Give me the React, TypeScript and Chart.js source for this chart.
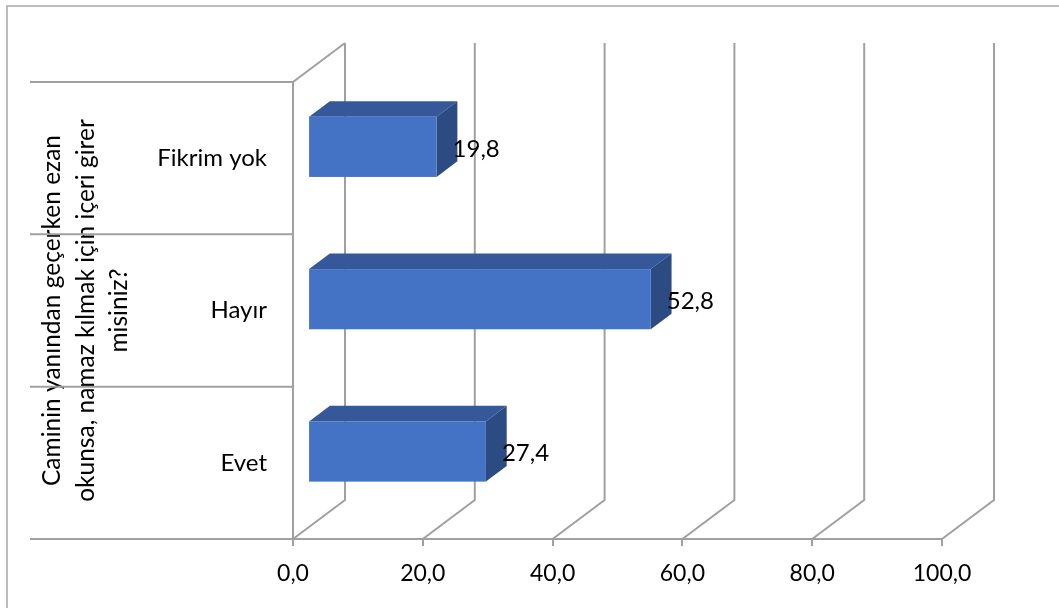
import React, { useEffect, useRef } from 'react';
import { Chart, registerables } from 'chart.js';

Chart.register(...registerables);

const categories = ['Fikrim yok', 'Hayır', 'Evet'];
const values = [19.8, 52.8, 27.4];
const xTicks = [0, 20, 40, 60, 80, 100];
const axisTitle = ['Caminin yanından geçerken ezan', 'okunsa, namaz kılmak için içeri girer', 'misiniz?'];

const FONT = 'Lato, "Open Sans", sans-serif';
const GRID = '#a0a0a0';
const DX = 52;
const DY = -39;
const BAR_NEAR = 0.29;
const BAR_FAR = 0.69;
const FRONT = '#4472C4';
const TOPC = '#34589A';
const SIDE = '#2B4B82';

const fmt = (v: number) => v.toFixed(1).replace('.', ',');

const box3d = {
  id: 'box3d',
  beforeDatasetsDraw(chart: any) {
    const { ctx, chartArea: a, scales } = chart;
    const x = scales.x;
    const y = scales.y;
    ctx.save();
    // outer frame
    ctx.strokeStyle = '#a6a6a6';
    ctx.lineWidth = 1.5;
    ctx.beginPath();
    ctx.moveTo(7, chart.height + 5);
    ctx.lineTo(7, 6);
    ctx.lineTo(chart.width + 5, 6);
    ctx.stroke();

    ctx.strokeStyle = GRID;
    ctx.lineWidth = 2;
    // back wall + floor lines
    xTicks.forEach((v) => {
      const px = x.getPixelForValue(v);
      ctx.beginPath();
      ctx.moveTo(px, a.bottom);
      ctx.lineTo(px + DX, a.bottom + DY);
      ctx.lineTo(px + DX, a.top + DY);
      ctx.stroke();
    });
    // left wall and front floor edge
    const x0 = x.getPixelForValue(xTicks[0]);
    const x1 = x.getPixelForValue(xTicks[xTicks.length - 1]);
    ctx.beginPath();
    ctx.moveTo(x0 + DX, a.top + DY);
    ctx.lineTo(x0, a.top);
    ctx.lineTo(x0, a.bottom);
    ctx.lineTo(x1, a.bottom);
    ctx.stroke();
    // category separators
    ctx.beginPath();
    for (let i = 0; i <= categories.length; i++) {
      const py = y.getPixelForValue(i - 0.5);
      ctx.moveTo(30, py);
      ctx.lineTo(x0, py);
    }
    ctx.stroke();
    ctx.restore();
  },
  afterDatasetsDraw(chart: any) {
    const { ctx } = chart;
    const meta = chart.getDatasetMeta(0);
    ctx.save();
    meta.data.forEach((bar: any, i: number) => {
      const p = bar.getProps(['x', 'y', 'base', 'height'], true);
      const nx = DX * BAR_NEAR;
      const ny = DY * BAR_NEAR;
      const dx = DX * (BAR_FAR - BAR_NEAR);
      const dy = DY * (BAR_FAR - BAR_NEAR);
      const top = p.y - p.height / 2 + ny;
      const bottom = p.y + p.height / 2 + ny;
      const l = p.base + nx;
      const r = p.x + nx;
      // top face
      ctx.fillStyle = TOPC;
      ctx.beginPath();
      ctx.moveTo(l, top);
      ctx.lineTo(l + dx, top + dy);
      ctx.lineTo(r + dx, top + dy);
      ctx.lineTo(r, top);
      ctx.closePath();
      ctx.fill();
      // side face
      ctx.fillStyle = SIDE;
      ctx.beginPath();
      ctx.moveTo(r, top);
      ctx.lineTo(r + dx, top + dy);
      ctx.lineTo(r + dx, bottom + dy);
      ctx.lineTo(r, bottom);
      ctx.closePath();
      ctx.fill();
      // front face
      ctx.fillStyle = FRONT;
      ctx.fillRect(l, top, r - l, bottom - top);
      // label
      ctx.fillStyle = '#000';
      ctx.font = `24px ${FONT}`;
      ctx.textAlign = 'left';
      ctx.textBaseline = 'middle';
      ctx.fillText(fmt(values[i]), r + 16, p.y + ny + 2);
    });
    ctx.restore();
  },
};

export default function App() {
  const ref = useRef<HTMLCanvasElement | null>(null);
  useEffect(() => {
    document.body.style.margin = '0';
    const c = ref.current;
    if (!c) return;
    const chart = new Chart(c, {
      type: 'bar',
      data: {
        labels: categories,
        datasets: [
          {
            data: values,
            backgroundColor: 'rgba(0,0,0,0)',
            borderWidth: 0,
            categoryPercentage: 1,
            barPercentage: 0.395,
          },
        ],
      },
      options: {
        indexAxis: 'y',
        animation: false,
        responsive: true,
        maintainAspectRatio: false,
        layout: { padding: { left: 0, top: 82, right: 117, bottom: 0 } },
        plugins: { legend: { display: false }, tooltip: { enabled: false }, title: { display: false } },
        scales: {
          x: {
            type: 'linear',
            position: 'bottom',
            min: 0,
            max: 100,
            afterBuildTicks: (s: any) => {
              s.ticks = xTicks.map((v) => ({ value: v }));
            },
            ticks: {
              callback: (v: any) => fmt(Number(v)),
              font: { family: FONT, size: 23 },
              color: '#000',
              padding: 14,
              maxRotation: 0,
            },
            grid: { drawOnChartArea: false, drawTicks: true, tickLength: 7, color: GRID, lineWidth: 2 },
            border: { display: false },
            afterFit: (s: any) => {
              s.height = 69;
            },
          },
          y: {
            type: 'category',
            position: 'left',
            grid: { display: false, drawTicks: false },
            border: { display: false },
            ticks: {
              font: { family: FONT, size: 24 },
              color: '#000',
              padding: 26,
            },
            title: {
              display: true,
              text: axisTitle,
              color: '#000',
              font: { family: FONT, size: 24.5, lineHeight: 1.38 },
              padding: { top: 35, bottom: 0 },
            },
            afterFit: (s: any) => {
              s.width = 293;
            },
          },
        },
      },
      plugins: [box3d],
    });
    return () => chart.destroy();
  }, []);
  return (
    <div style={{ width: 1059, height: 608, position: 'relative' }}>
      <canvas ref={ref} />
    </div>
  );
}
